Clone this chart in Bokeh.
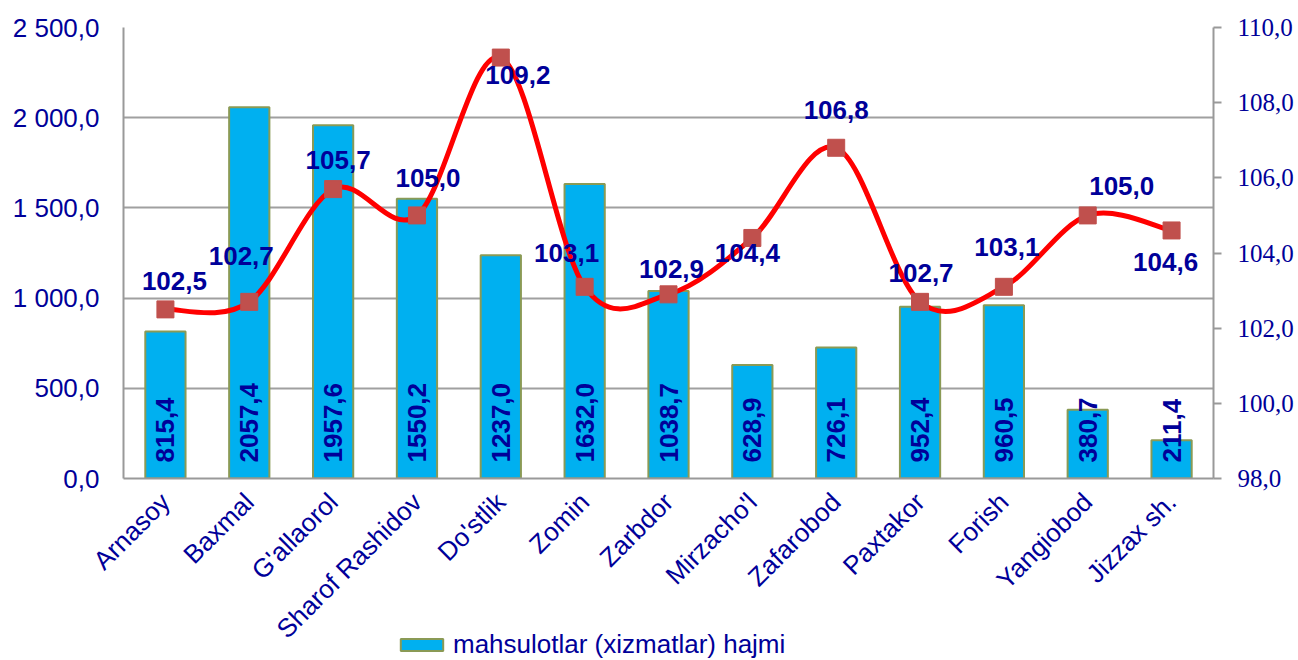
import math
from bokeh.plotting import figure
from bokeh.layouts import column
from bokeh.models import (ColumnDataSource, Range1d, FactorRange, LinearAxis,
                          FixedTicker, Legend, LegendItem)
from bokeh.core.properties import value
from bokeh.embed import file_html
from bokeh.resources import INLINE

# ---------------- data ----------------
districts = ["Arnasoy", "Baxmal", "G'allaorol", "Sharof Rashidov", "Do'stlik",
             "Zomin", "Zarbdor", "Mirzacho'l", "Zafarobod", "Paxtakor",
             "Forish", "Yangiobod", "Jizzax sh."]
volume = [815.4, 2057.4, 1957.6, 1550.2, 1237.0, 1632.0, 1038.7,
          628.9, 726.1, 952.4, 960.5, 380.7, 211.4]
growth = [102.5, 102.7, 105.7, 105.0, 109.2, 103.1, 102.9,
          104.4, 106.8, 102.7, 103.1, 105.0, 104.6]
left_ticks = [0, 500, 1000, 1500, 2000, 2500]
left_tick_labels = ["0,0", "500,0", "1 000,0", "1 500,0", "2 000,0", "2 500,0"]
right_ticks = [98, 100, 102, 104, 106, 108, 110]
right_tick_labels = ["98,0", "100,0", "102,0", "104,0", "106,0", "108,0", "110,0"]
series_name = "mahsulotlar (xizmatlar) hajmi"

# label nudges (screen px) for the growth labels
lab_dx = [9, -8, 5, 11, 17, -18, 3, -5, 0, 1, 3, 34, -6]
lab_dy = [-28, -46, -29, -37, 17, -34, -25, 15, -38, -29, -40, -29, 32]

NAVY = "#000099"
SANS = "Liberation Sans"
SERIF = "Liberation Serif"
BAR_FILL = "#00B0F0"
BAR_LINE = "#8A9A55"
W = 1298
LEFT = 123

def fmt(v):
    return f"{v:.1f}".replace(".", ",")

p = figure(x_range=FactorRange(*districts), y_range=Range1d(0, 2500),
           width=W, height=660, output_backend="svg", toolbar_location=None,
           min_border_left=LEFT, min_border_right=85, min_border_top=27,
           min_border_bottom=182, background_fill_color="white",
           border_fill_color="white")
p.outline_line_color = None
p.extra_y_ranges = {"pct": Range1d(98, 110)}

# left axis
ya = p.yaxis[0]
ya.ticker = FixedTicker(ticks=left_ticks)
ya.major_label_overrides = {t: l for t, l in zip(left_ticks, left_tick_labels)}
ya.major_tick_line_color = None
ya.minor_tick_line_color = None
ya.axis_line_color = "#999999"
ya.axis_line_width = 2
ya.major_label_text_font = SANS
ya.major_label_text_font_size = "26px"
ya.major_label_text_color = NAVY
ya.major_label_standoff = 18

# right axis
ra = LinearAxis(y_range_name="pct", ticker=FixedTicker(ticks=right_ticks),
                major_label_overrides={t: l for t, l in zip(right_ticks, right_tick_labels)})
ra.major_tick_in = 0
ra.major_tick_out = 8
ra.major_tick_line_color = "#999999"
ra.major_tick_line_width = 2
ra.minor_tick_line_color = None
ra.axis_line_color = "#999999"
ra.axis_line_width = 2
ra.major_label_text_font = SERIF
ra.major_label_text_font_size = "25px"
ra.major_label_text_color = NAVY
ra.major_label_standoff = 16
p.add_layout(ra, "right")

# x axis
xa = p.xaxis[0]
xa.major_label_orientation = math.pi / 4
xa.major_tick_line_color = None
xa.minor_tick_line_color = None
xa.axis_line_color = "#999999"
xa.axis_line_width = 2
xa.major_label_text_font = SANS
xa.major_label_text_font_size = "26px"
xa.major_label_text_color = NAVY
xa.major_label_standoff = 13

p.xgrid.grid_line_color = None
p.ygrid.grid_line_color = "#a0a0a0"
p.ygrid.grid_line_width = 2

# bars
src = ColumnDataSource(dict(x=districts, vol=volume,
                            vlab=[fmt(v) for v in volume]))
p.vbar(x="x", top="vol", width=0.48, source=src,
       fill_color=BAR_FILL, line_color=BAR_LINE, line_width=2)
p.text(x="x", y=0, text="vlab", source=src, angle=math.pi / 2,
       text_align="left", text_baseline="middle", y_offset=-16,
       text_font=value(SANS), text_font_style="bold", text_font_size="26px",
       text_color=NAVY)

# smooth line (cubic Bezier segments, Catmull-Rom tangents)
n = len(growth)
xs = [i + 0.5 for i in range(n)]
tx, ty = [], []
for i in range(n):
    a = max(i - 1, 0)
    b = min(i + 1, n - 1)
    tx.append((xs[b] - xs[a]) / 2)
    ty.append((growth[b] - growth[a]) / 2)
seg = dict(x0=xs[:-1], y0=growth[:-1], x1=xs[1:], y1=growth[1:],
           cx0=[xs[i] + tx[i] / 3 for i in range(n - 1)],
           cy0=[growth[i] + ty[i] / 3 for i in range(n - 1)],
           cx1=[xs[i + 1] - tx[i + 1] / 3 for i in range(n - 1)],
           cy1=[growth[i + 1] - ty[i + 1] / 3 for i in range(n - 1)])
p.bezier(x0="x0", y0="y0", x1="x1", y1="y1", cx0="cx0", cy0="cy0",
         cx1="cx1", cy1="cy1", source=ColumnDataSource(seg),
         y_range_name="pct", line_color="#FF0000", line_width=5)

gsrc = ColumnDataSource(dict(x=districts, g=growth, glab=[fmt(v) for v in growth],
                             dx=lab_dx, dy=lab_dy))
p.scatter(x="x", y="g", source=gsrc, y_range_name="pct", marker="square",
          size=17, fill_color="#C0504D", line_color="#C0504D")
p.text(x="x", y="g", text="glab", source=gsrc, y_range_name="pct",
       x_offset="dx", y_offset="dy", text_align="center", text_baseline="middle",
       text_font=value(SANS), text_font_style="bold", text_font_size="26px",
       text_color=NAVY)

# legend strip, overlapping the bottom of the chart (transparent)
lf = figure(width=W, height=30, output_backend="svg", toolbar_location=None,
            x_axis_location=None, y_axis_location=None, min_border=0,
            background_fill_color=None, border_fill_color=None,
            x_range=Range1d(0, 1), y_range=Range1d(0, 1))
lf.outline_line_color = None
lf.grid.grid_line_color = None
# hidden proxy bars that only supply the legend swatch
proxy = lf.vbar(x="vol", top="vol", width=0.5, source=src, fill_color=BAR_FILL,
                line_color=BAR_LINE, line_width=2)
proxy.visible = False
legend = Legend(items=[LegendItem(label=series_name, renderers=[proxy])],
                location=(395 - LEFT, 0), orientation="horizontal",
                padding=0, margin=0, spacing=0,
                glyph_width=53, glyph_height=15, label_height=25,
                label_standoff=5, border_line_color=None,
                background_fill_alpha=0, inactive_fill_alpha=0,
                label_text_font=SANS, label_text_font_size="26px",
                label_text_color=NAVY)
lf.add_layout(legend, "center")
lf.margin = (-30, 0, 0, 0)

layout = column(p, lf, spacing=0)
open("out.html", "w").write(file_html(layout, INLINE))
